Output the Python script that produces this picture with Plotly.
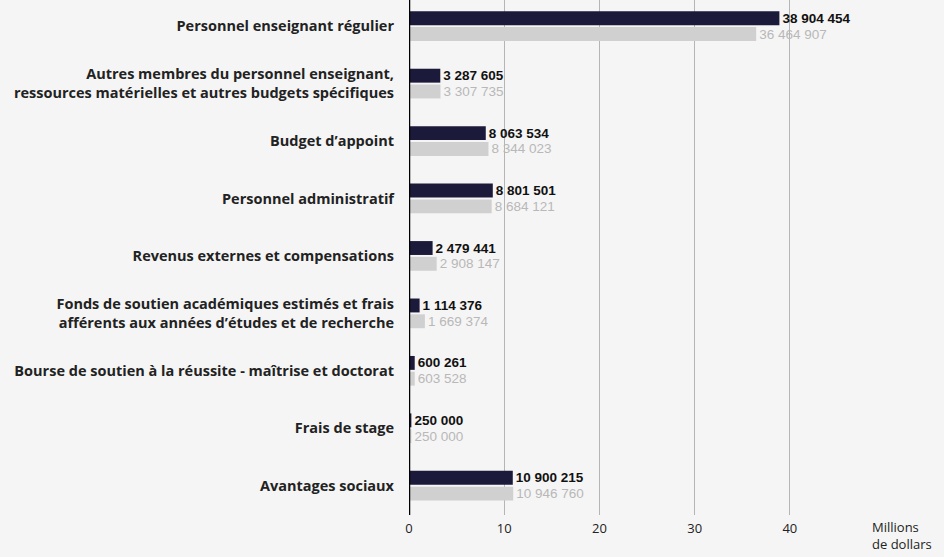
import plotly.graph_objects as go

categories = [
    "Personnel enseignant régulier",
    "Autres membres du personnel enseignant,<br>ressources matérielles et autres budgets spécifiques",
    "Budget d’appoint",
    "Personnel administratif",
    "Revenus externes et compensations",
    "Fonds de soutien académiques estimés et frais<br>afférents aux années d’études et de recherche",
    "Bourse de soutien à la réussite - maîtrise et doctorat",
    "Frais de stage",
    "Avantages sociaux",
]
series_a = [38904454, 3287605, 8063534, 8801501, 2479441, 1114376, 600261, 250000, 10900215]
series_b = [36464907, 3307735, 8344023, 8684121, 2908147, 1669374, 603528, 250000, 10946760]
tick_vals = [0, 10, 20, 30, 40]


def fmt(v):
    return f"{v:,}".replace(",", " ")


DARK = "#1c1a3a"
LIGHT = "#d0d0d0"
FONT = "Open Sans"
NUMFONT = "Liberation Sans"

fig = go.Figure()
fig.add_trace(go.Bar(
    y=categories, x=[v / 1e6 for v in series_a], orientation="h",
    marker=dict(color=DARK, line=dict(width=0)),
    text=[f"<b>{fmt(v)}</b>" for v in series_a], textposition="outside",
    textfont=dict(family=NUMFONT, size=13.5, color="#111111"),
    cliponaxis=False, showlegend=False, hoverinfo="skip",
))
fig.add_trace(go.Bar(
    y=categories, x=[v / 1e6 for v in series_b], orientation="h",
    marker=dict(color=LIGHT, line=dict(width=0)),
    text=[fmt(v) for v in series_b], textposition="outside",
    textfont=dict(family=NUMFONT, size=13.5, color="#b8b8b8"),
    cliponaxis=False, showlegend=False, hoverinfo="skip",
))

fig.update_layout(
    width=944, height=557,
    margin=dict(l=409, r=78, t=0, b=42),
    paper_bgcolor="#f5f5f5", plot_bgcolor="#f5f5f5",
    barmode="group", bargap=0.45, bargroupgap=0.12,
    font=dict(family=FONT, color="#222222"),
    uniformtext=dict(minsize=13, mode="show"),
    xaxis=dict(
        range=[0, 48], tickvals=tick_vals, showgrid=True, gridcolor="#b5b5b5",
        gridwidth=1, zeroline=False, showline=False, ticks="",
        ticklabelstandoff=4,
        tickfont=dict(family=FONT, size=13, color="#222222"),
    ),
    yaxis=dict(
        range=[8.51, -0.455], showgrid=False, zeroline=False,
        showline=False, ticks="", ticklabelstandoff=14,
        tickfont=dict(family=FONT, size=14.5, color="#222222", weight=700),
    ),
    shapes=[dict(type="line", xref="x", yref="paper", x0=0, x1=0, y0=0, y1=1,
                 line=dict(color="#000000", width=2.5))],
    annotations=[dict(
        text="Millions<br>de dollars", xref="paper", yref="paper",
        x=1.008, y=-0.002, xanchor="left", yanchor="top", align="left",
        showarrow=False, font=dict(family=FONT, size=13, color="#222222"),
    )],
)

fig.write_html("out.html", config={"displayModeBar": False},
               post_script="document.body.style.margin='0';")
